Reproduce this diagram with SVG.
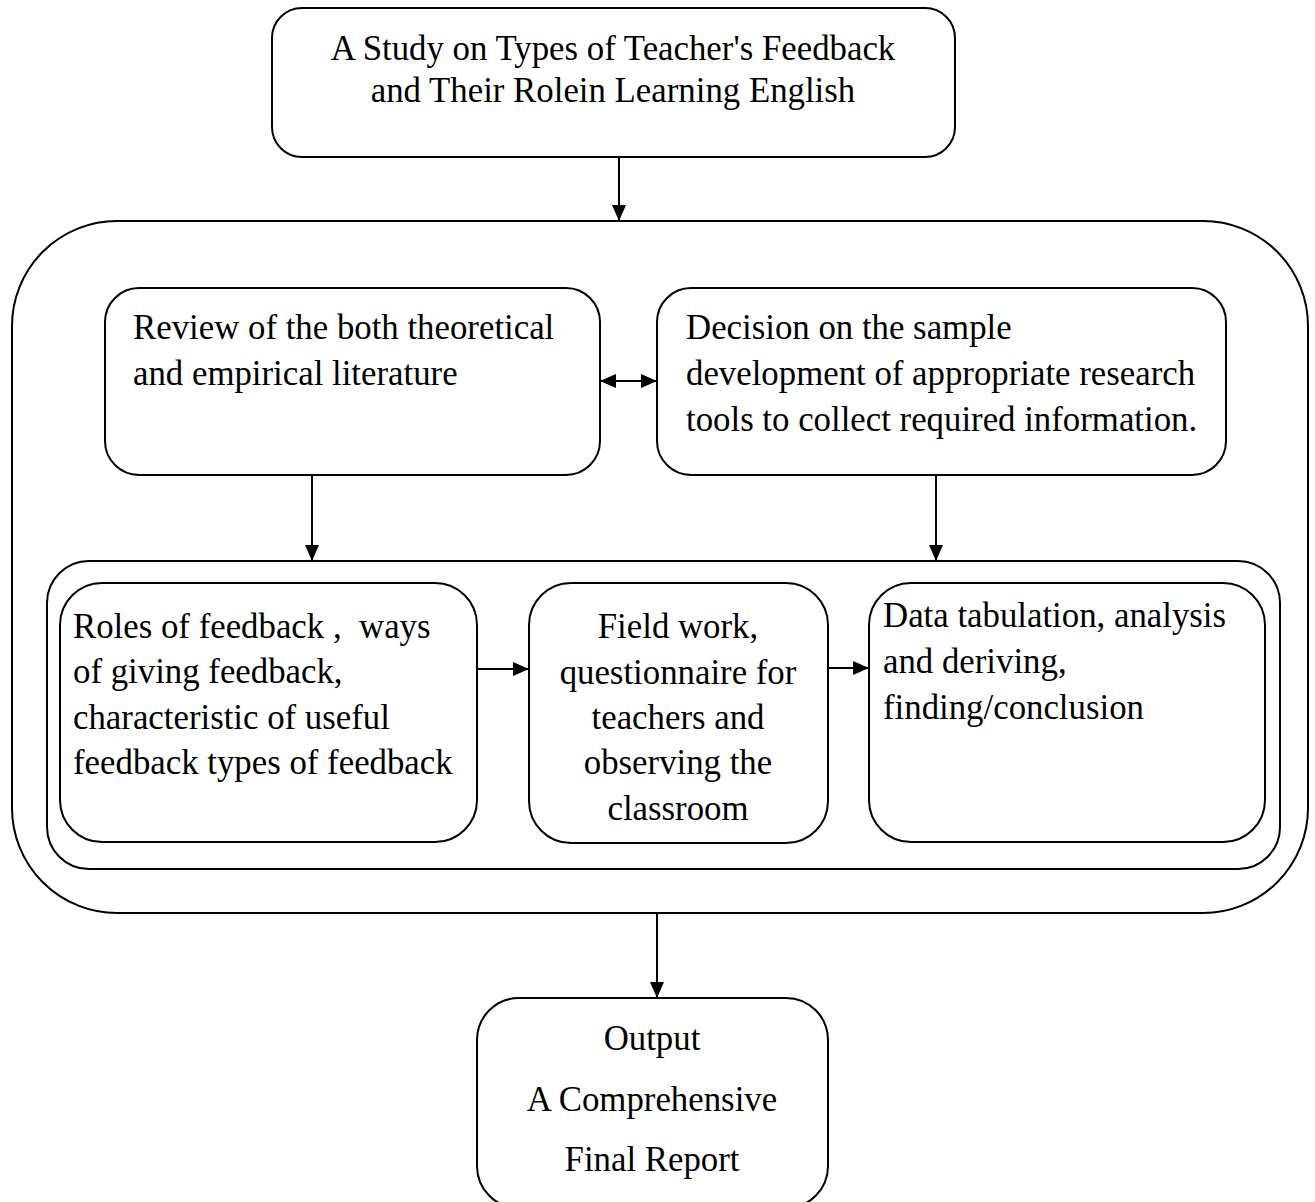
<svg xmlns="http://www.w3.org/2000/svg" width="1315" height="1202" viewBox="0 0 1315 1202">
<defs>
<marker id="ah2" markerWidth="16" markerHeight="14" refX="15" refY="7" orient="auto-start-reverse" markerUnits="userSpaceOnUse" viewBox="0 0 16 14"><path d="M0,0 L16,7 L0,14 z" fill="#000"/></marker>
</defs>
<style>
.box{fill:#fff;stroke:#000;stroke-width:2}
.t{font-family:"Liberation Serif","Times New Roman",serif;font-size:34.8px;fill:#000}
.c{text-anchor:middle}
.ln{stroke:#000;stroke-width:2;fill:none}
</style>
<rect width="1315" height="1202" fill="#fff"/>
<g id="outer"><rect class="box" x="12" y="221" width="1296" height="692" rx="105" ry="105"/></g>
<g id="title"><rect class="box" x="272" y="8" width="683" height="149" rx="30" ry="30"/>
<text class="t c" x="613" y="60">A Study on Types of Teacher's Feedback</text>
<text class="t c" x="613" y="102">and Their Rolein Learning English</text></g>
<g id="review"><rect class="box" x="105" y="288" width="495" height="187" rx="34" ry="34"/>
<text class="t" x="133" y="339">Review of the both theoretical</text>
<text class="t" x="133" y="385">and empirical literature</text></g>
<g id="decision"><rect class="box" x="657" y="288" width="569" height="187" rx="34" ry="34"/>
<text class="t" x="686" y="339">Decision on the sample</text>
<text class="t" x="686" y="385">development of appropriate research</text>
<text class="t" x="686" y="431">tools to collect required information.</text></g>
<g id="inner"><rect class="box" x="47" y="561" width="1233" height="308" rx="42" ry="42"/></g>
<g id="roles"><rect class="box" x="60" y="583" width="417" height="259" rx="42" ry="42"/>
<text class="t" x="73" y="638">Roles of feedback , &#160;ways</text>
<text class="t" x="73" y="683">of giving feedback,</text>
<text class="t" x="73" y="729">characteristic of useful</text>
<text class="t" x="73" y="774">feedback types of feedback</text></g>
<g id="field"><rect class="box" x="529" y="583" width="299" height="260" rx="42" ry="42"/>
<text class="t c" x="678" y="638">Field work,</text>
<text class="t c" x="678" y="684">questionnaire for</text>
<text class="t c" x="678" y="729">teachers and</text>
<text class="t c" x="678" y="774">observing the</text>
<text class="t c" x="678" y="820">classroom</text></g>
<g id="data"><rect class="box" x="869" y="583" width="396" height="259" rx="42" ry="42"/>
<text class="t" x="883" y="627">Data tabulation, analysis</text>
<text class="t" x="883" y="673">and deriving,</text>
<text class="t" x="883" y="719">finding/conclusion</text></g>
<g id="output"><rect class="box" x="477" y="998" width="351" height="210" rx="42" ry="42"/>
<text class="t c" x="652" y="1050">Output</text>
<text class="t c" x="652" y="1111">A Comprehensive</text>
<text class="t c" x="652" y="1171">Final Report</text></g>
<g id="connectors">
<line class="ln" x1="619" y1="157" x2="619" y2="220" marker-end="url(#ah2)"/>
<line class="ln" x1="601" y1="381" x2="656" y2="381" marker-start="url(#ah2)" marker-end="url(#ah2)"/>
<line class="ln" x1="312" y1="475" x2="312" y2="560" marker-end="url(#ah2)"/>
<line class="ln" x1="936" y1="475" x2="936" y2="560" marker-end="url(#ah2)"/>
<line class="ln" x1="477" y1="669" x2="528" y2="669" marker-end="url(#ah2)"/>
<line class="ln" x1="828" y1="668" x2="868" y2="668" marker-end="url(#ah2)"/>
<line class="ln" x1="657" y1="913" x2="657" y2="997" marker-end="url(#ah2)"/>
</g>
</svg>
